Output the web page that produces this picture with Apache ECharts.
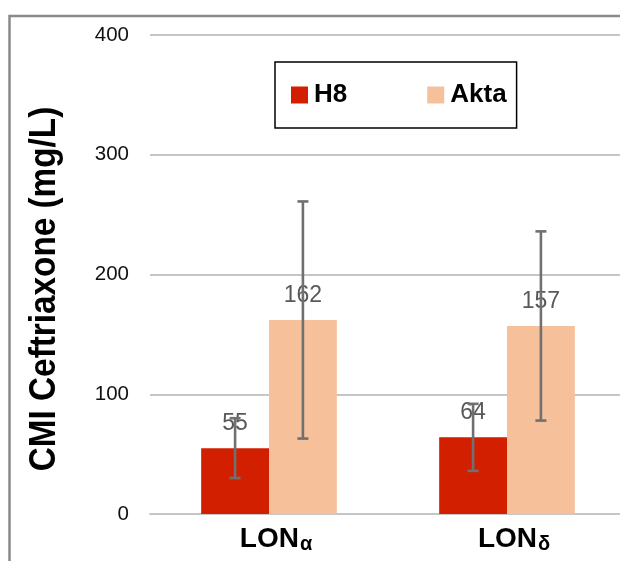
<!DOCTYPE html>
<html>
<head>
<meta charset="utf-8">
<script src="https://cdn.jsdelivr.net/npm/echarts@6/dist/echarts.min.js"></script>
<style>
html,body{margin:0;padding:0;background:#fff;overflow:hidden;width:620px;height:561px;}
#chart{width:640px;height:561px;}
</style>
</head>
<body>
<div id="chart"></div>
<script>
var categories = ['α', 'δ'];
var seriesNames = ['H8', 'Akta'];
var h8Values = [55, 64];
var aktaValues = [162, 157];
var h8Err = [25, 28];
var aktaErr = [99, 79];
var yTicks = [0, 100, 200, 300, 400];

var colors = ['#D11F00', '#F6C09A'];
var catGap = 0.43;

function errData(vals, errs) {
  return vals.map(function (v, i) { return [i, v - errs[i], v + errs[i]]; });
}
function errSeries(vals, errs, side) {
  return {
    type: 'custom',
    z: 10,
    silent: true,
    data: errData(vals, errs),
    encode: { x: 0, y: [1, 2] },
    renderItem: function (params, api) {
      var idx = api.value(0);
      var lo = api.coord([idx, api.value(1)]);
      var hi = api.coord([idx, api.value(2)]);
      var band = api.size([1, 0])[0];
      var off = side * band * (1 - catGap) / 4;
      var x = lo[0] + off;
      var cap = 5.5;
      var st = { stroke: '#707070', lineWidth: 2.6 };
      return {
        type: 'group',
        children: [
          { type: 'line', shape: { x1: x, y1: lo[1], x2: x, y2: hi[1] }, style: st },
          { type: 'line', shape: { x1: x - cap, y1: lo[1], x2: x + cap, y2: lo[1] }, style: st },
          { type: 'line', shape: { x1: x - cap, y1: hi[1], x2: x + cap, y2: hi[1] }, style: st }
        ]
      };
    }
  };
}

var barLabel = {
  show: true, position: 'top', distance: 13,
  color: '#595959', fontSize: 23, fontFamily: 'Liberation Sans'
};

var chart = echarts.init(document.getElementById('chart'), null, { renderer: 'canvas' });
chart.setOption({
  animation: false,
  backgroundColor: '#ffffff',
  grid: { left: 150, width: 476, top: 35, bottom: 47, containLabel: false },
  graphic: [
    {
      type: 'rect', z: -1, silent: true,
      shape: { x: 9.5, y: 16, width: 800, height: 800 },
      style: { fill: 'none', stroke: '#8a8a8a', lineWidth: 2.5 }
    },
    {
      type: 'text', silent: true,
      x: 45, y: 289, rotation: Math.PI / 2, scaleX: 0.9,
      style: {
        text: 'CMI Ceftriaxone (mg/L)',
        font: 'bold 37px "Liberation Sans"',
        fill: '#000000', align: 'center', verticalAlign: 'middle'
      }
    }
  ],
  legend: {
    left: 275, top: 62,
    data: seriesNames,
    icon: 'rect',
    itemWidth: 17, itemHeight: 17, itemGap: 80,
    padding: [20, 10, 20, 16],
    borderColor: '#000000', borderWidth: 1.5,
    textStyle: { fontSize: 26, fontWeight: 'bold', color: '#000', fontFamily: 'Liberation Sans', padding: [0, 0, 0, 1] }
  },
  xAxis: {
    type: 'category',
    data: categories,
    axisLine: { show: true, lineStyle: { color: '#C6C6C6', width: 2 } },
    axisTick: { show: false },
    axisLabel: {
      margin: 10,
      padding: [0, 0, 0, 14],
      formatter: function (v) { return '{a|LON}{s|' + v + '}'; },
      rich: {
        a: { fontSize: 28, fontWeight: 'bold', color: '#000', fontFamily: 'Liberation Sans', lineHeight: 30 },
        s: { fontSize: 20, fontWeight: 'bold', color: '#000', fontFamily: 'Liberation Sans', verticalAlign: 'bottom', lineHeight: 30, padding: [9, 0, 0, 1] }
      }
    }
  },
  yAxis: {
    type: 'value',
    min: yTicks[0], max: yTicks[yTicks.length - 1], interval: 100,
    axisLine: { show: false },
    axisTick: { show: false },
    splitLine: { lineStyle: { color: '#C6C6C6', width: 2 } },
    axisLabel: { margin: 21, fontSize: 20.5, color: '#111', fontFamily: 'Liberation Sans' }
  },
  series: [
    {
      name: seriesNames[0], type: 'bar', data: h8Values,
      itemStyle: { color: colors[0] },
      barGap: '0%', barCategoryGap: (catGap * 100) + '%',
      label: barLabel
    },
    {
      name: seriesNames[1], type: 'bar', data: aktaValues,
      itemStyle: { color: colors[1] },
      barGap: '0%', barCategoryGap: (catGap * 100) + '%',
      label: barLabel
    },
    errSeries(h8Values, h8Err, -1),
    errSeries(aktaValues, aktaErr, 1)
  ]
});
</script>
</body>
</html>
